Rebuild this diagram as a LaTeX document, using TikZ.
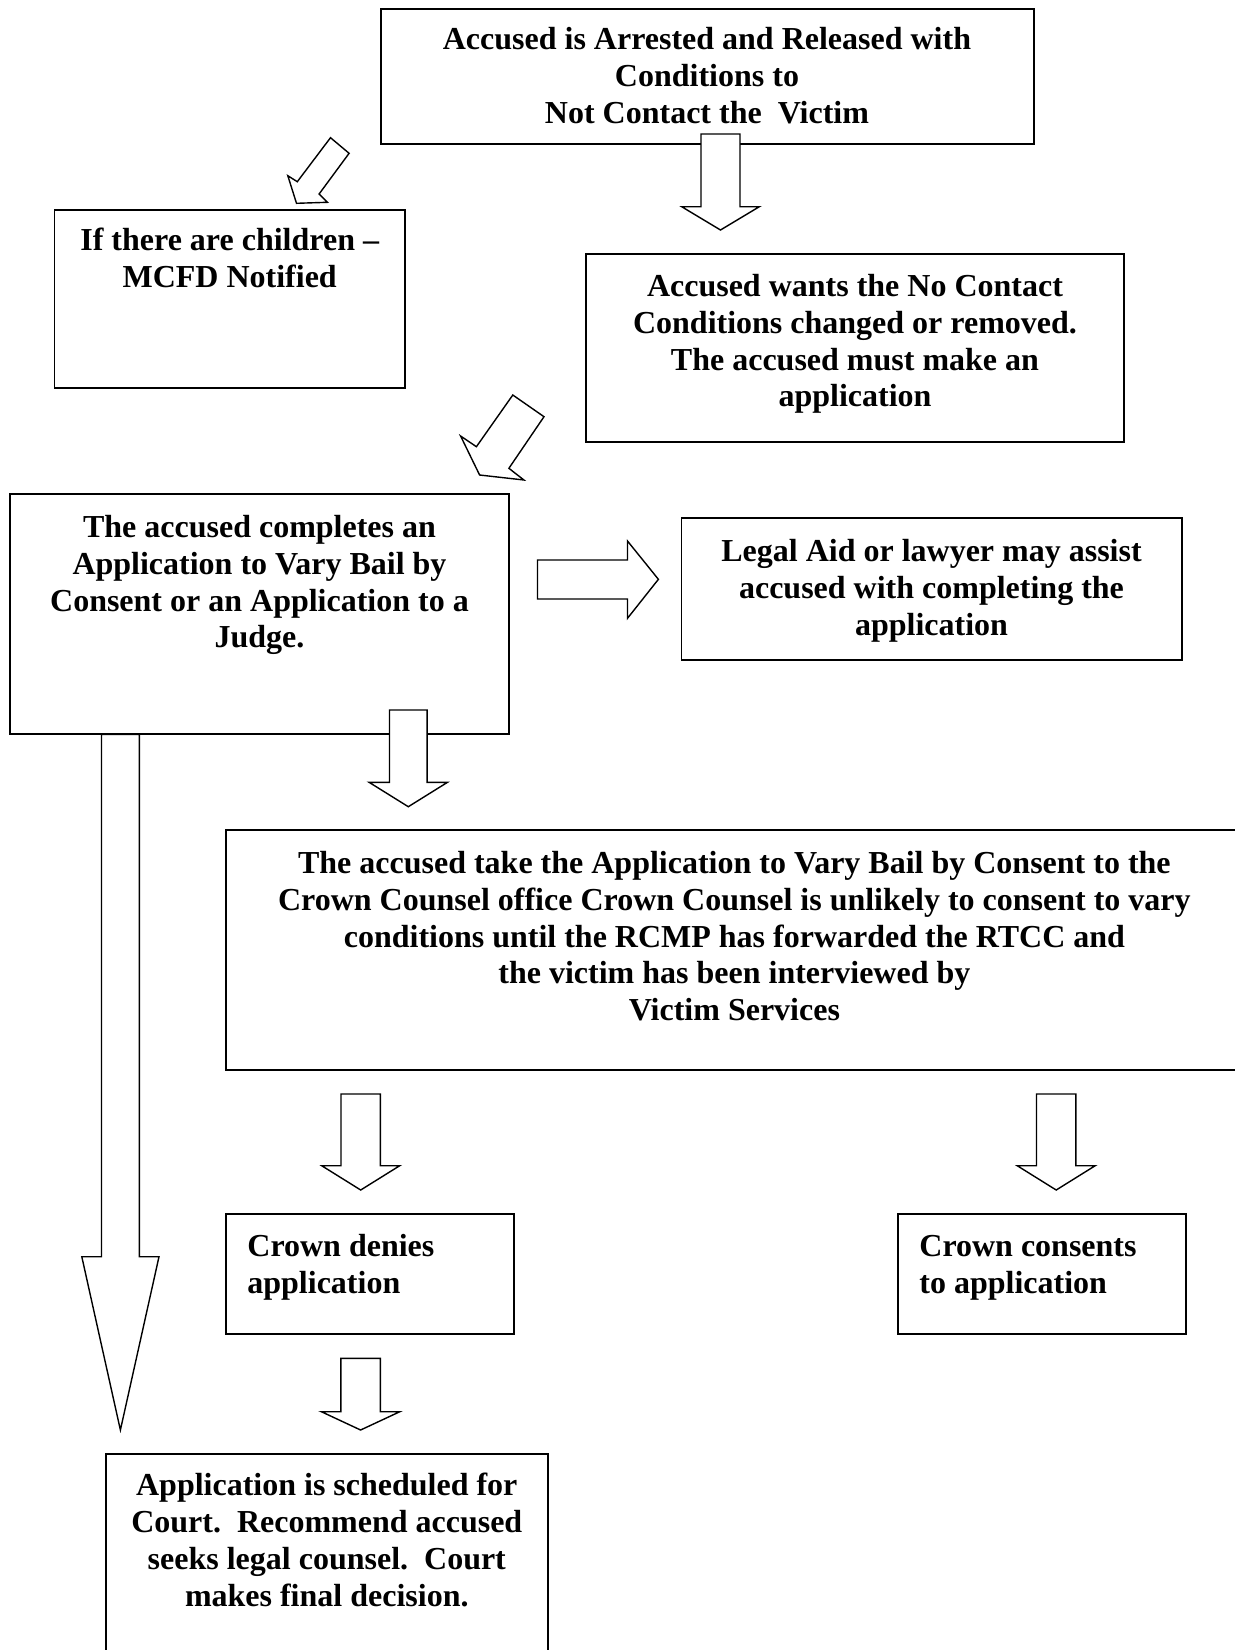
\documentclass[tikz,border=0pt]{standalone}
\usepackage{fontspec}
\setmainfont{Liberation Serif}
\usetikzlibrary{fit}
\newcommand\dnblk[6]{% cx, top, shoulder, tip, halfstem, halfhead
  \draw[blk] ({#1-#5},#2) -- ({#1+#5},#2) -- ({#1+#5},#3) -- ({#1+#6},#3) -- (#1,#4) -- ({#1-#6},#3) -- ({#1-#5},#3) -- cycle;}
\begin{document}
\begin{tikzpicture}[x=0.5pt,y=-0.5pt,
  box/.style={draw, line width=0.9pt, inner sep=0pt},
  txt/.style={inner sep=0pt, font=\fontsize{16}{18.4}\selectfont\bfseries, align=center},
  ltxt/.style={inner sep=0pt, font=\fontsize{16}{18.4}\selectfont\bfseries, align=left},
  blk/.style={draw, fill=white, line width=0.7pt, line join=miter}]
\useasboundingbox (0,0) rectangle (1235,1650);
\clip (0,0) rectangle (1235,1650);
\fill[white] (0,0) rectangle (1235,1650);

% ---- boxes ----
\coordinate (c1a) at (381,9);    \coordinate (c1b) at (1034,144);
\node[box, fit=(c1a)(c1b)] (arrest) {};
\coordinate (c2a) at (54.5,210); \coordinate (c2b) at (405,387.7);
\node[box, fit=(c2a)(c2b)] (mcfd) {};
\coordinate (c3a) at (586,254);  \coordinate (c3b) at (1124,441.7);
\node[box, fit=(c3a)(c3b)] (wants) {};
\coordinate (c4a) at (10,494);   \coordinate (c4b) at (509,734.3);
\node[box, fit=(c4a)(c4b)] (completes) {};
\coordinate (c5a) at (681.4,517.7); \coordinate (c5b) at (1182,660);
\node[box, fit=(c5a)(c5b)] (legal) {};
\coordinate (c6a) at (226,830);  \coordinate (c6b) at (1243,1070);
\node[box, fit=(c6a)(c6b)] (crownoffice) {};
\coordinate (c7a) at (226,1214); \coordinate (c7b) at (514,1334);
\node[box, fit=(c7a)(c7b)] (denies) {};
\coordinate (c8a) at (898,1214); \coordinate (c8b) at (1186,1334);
\node[box, fit=(c8a)(c8b)] (consents) {};
\coordinate (c9a) at (106,1454); \coordinate (c9b) at (547.6,1720);
\node[box, fit=(c9a)(c9b)] (court) {};

% ---- texts ----
\node[txt, anchor=north] (arrestT) at (707,25)
  {\rule{0pt}{12pt}Accused is Arrested and Released with\\Conditions to\\Not Contact the\ \ Victim};
\node[txt, anchor=north] (mcfdT) at (229.7,226.5)
  {\rule{0pt}{12pt}If there are children –\\MCFD Notified};
\node[txt, anchor=north] (wantsT) at (855,272)
  {\rule{0pt}{12pt}Accused wants the No Contact\\Conditions changed or removed.\\The accused must make an\\application};
\node[txt, anchor=north] (completesT) at (259.5,513)
  {\rule{0pt}{12pt}The accused completes an\\Application to Vary Bail by\\Consent or an Application to a\\Judge.};
\node[txt, anchor=north] (legalT) at (931.5,537)
  {\rule{0pt}{12pt}Legal Aid or lawyer may assist\\accused with completing the\\application};
\node[txt, anchor=north] (crownofficeT) at (734.4,849)
  {\rule{0pt}{12pt}The accused take the Application to Vary Bail by Consent to the\\Crown Counsel office Crown Counsel is unlikely to consent to vary\\conditions until the RCMP has forwarded the RTCC and\\the victim has been interviewed by\\Victim Services};
\node[ltxt, anchor=north west] (deniesT) at (247,1232)
  {\rule{0pt}{12pt}Crown denies\\application};
\node[ltxt, anchor=north west] (consentsT) at (919,1232)
  {\rule{0pt}{12pt}Crown consents\\to application};
\node[txt, anchor=north] (courtT) at (326.8,1471.5)
  {\rule{0pt}{12pt}Application is scheduled for\\Court.\ \ Recommend accused\\seeks legal counsel.\ \ Court\\makes final decision.};

% ---- block arrows ----
\dnblk{720.5}{134}{206.7}{230}{19.5}{38.8}
\dnblk{408.3}{710}{782.3}{806.7}{18.8}{39.2}
\dnblk{360.7}{1094}{1165.7}{1190}{19.7}{39}
\dnblk{1056.2}{1094}{1165.7}{1190}{19.7}{39}
\dnblk{360.6}{1358.3}{1411.7}{1430}{19.8}{39.2}
\dnblk{120.4}{734.3}{1256.7}{1430}{18.9}{38.6}
% right arrow
\draw[blk] (537.5,560) -- (627.5,560) -- (627.5,541) -- (658.4,579.3) -- (627.5,618.3) -- (627.5,599) -- (537.5,599) -- cycle;
% diagonal arrows
\draw[blk] (330.5,137.7) -- (349.1,153.3) -- (319.1,194) -- (327.4,202.3) -- (296.5,203.3) -- (287.8,175.7) -- (297.3,181.7) -- cycle;
\draw[blk] (512.8,395) -- (544,416.7) -- (508.9,468.3) -- (523.9,480) -- (479.6,475) -- (460.6,436) -- (476.4,446.7) -- cycle;
\end{tikzpicture}
\end{document}
